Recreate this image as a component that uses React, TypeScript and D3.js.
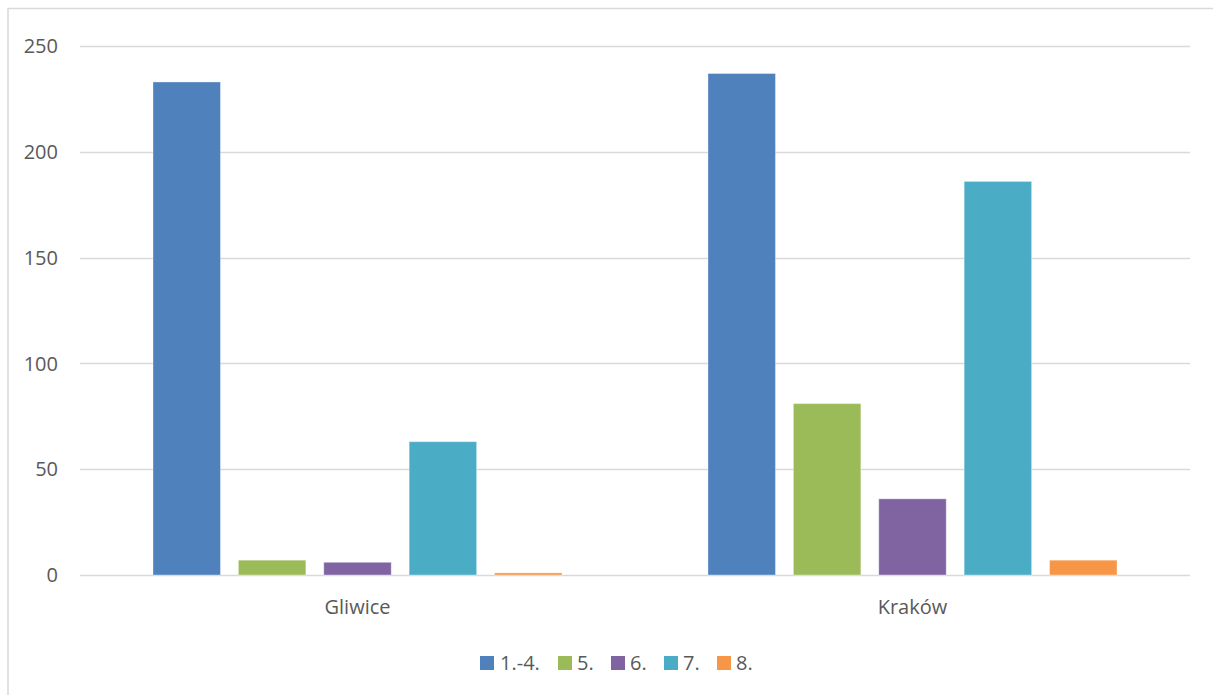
import React from "react";
import * as d3 from "d3";

const categories = ["Gliwice", "Kraków"];
const seriesNames = ["1.-4.", "5.", "6.", "7.", "8."];
const seriesColors = ["#4F81BD", "#9BBB59", "#8064A2", "#4BACC6", "#F79646"];
const gliwiceValues = [233, 7, 6, 63, 1];
const krakowValues = [237, 81, 36, 186, 7];
const yTicks = [0, 50, 100, 150, 200, 250];

const W = 1213;
const H = 695;
const FONT = "'Open Sans', 'Liberation Sans', sans-serif";
const TXT = "#595959";

export default function App() {
  const valuesByCat = [gliwiceValues, krakowValues];
  const x0 = d3.scaleBand<string>().domain(categories).range([80, 1190]).padding(0);
  const bw0 = x0.bandwidth();
  const x1 = d3
    .scaleBand<string>()
    .domain(seriesNames)
    .range([73, bw0 - 73])
    .paddingInner(0.21)
    .paddingOuter(0);
  const y = d3.scaleLinear().domain([0, 250]).range([575, 46]);

  const legendItems = [
    { x: 480, tx: 500 },
    { x: 558, tx: 577 },
    { x: 611, tx: 630 },
    { x: 664, tx: 683 },
    { x: 717, tx: 736 },
  ];

  return (
    <svg
      width={W}
      height={H}
      style={{ position: "absolute", left: 0, top: 0, background: "#fff" }}
    >
      <rect x={0} y={0} width={W} height={H} fill="#fff" />
      <rect
        x={8}
        y={8.5}
        width={W + 10}
        height={H + 10}
        fill="#fff"
        stroke="#d9d9d9"
        strokeWidth={1.5}
      />
      {yTicks.map((t) => (
        <g key={t}>
          <line
            x1={80}
            x2={1190}
            y1={Math.round(y(t)) + 0.5}
            y2={Math.round(y(t)) + 0.5}
            stroke="#d9d9d9"
            strokeWidth={1.3}
          />
          <text
            x={58}
            y={y(t)}
            dy="0.36em"
            textAnchor="end"
            fontFamily={FONT}
            fontSize={20}
            fill={TXT}
          >
            {t}
          </text>
        </g>
      ))}
      {categories.map((c, ci) => (
        <g key={c} transform={`translate(${x0(c)},0)`}>
          {seriesNames.map((s, si) => {
            const v = valuesByCat[ci][si];
            return (
              <rect
                key={s}
                x={x1(s)}
                y={y(v)}
                width={x1.bandwidth()}
                height={y(0) - y(v)}
                fill={seriesColors[si]}
                stroke="#ffffff"
                strokeOpacity={0.35}
                strokeWidth={1}
              />
            );
          })}
          <text
            x={bw0 / 2}
            y={614}
            textAnchor="middle"
            fontFamily={FONT}
            fontSize={20}
            fill={TXT}
          >
            {c}
          </text>
        </g>
      ))}
      {seriesNames.map((s, i) => (
        <g key={s}>
          <rect x={legendItems[i].x} y={656} width={14} height={14} fill={seriesColors[i]} />
          <text
            x={legendItems[i].tx}
            y={670}
            fontFamily={FONT}
            fontSize={20}
            fill={TXT}
          >
            {s}
          </text>
        </g>
      ))}
    </svg>
  );
}
